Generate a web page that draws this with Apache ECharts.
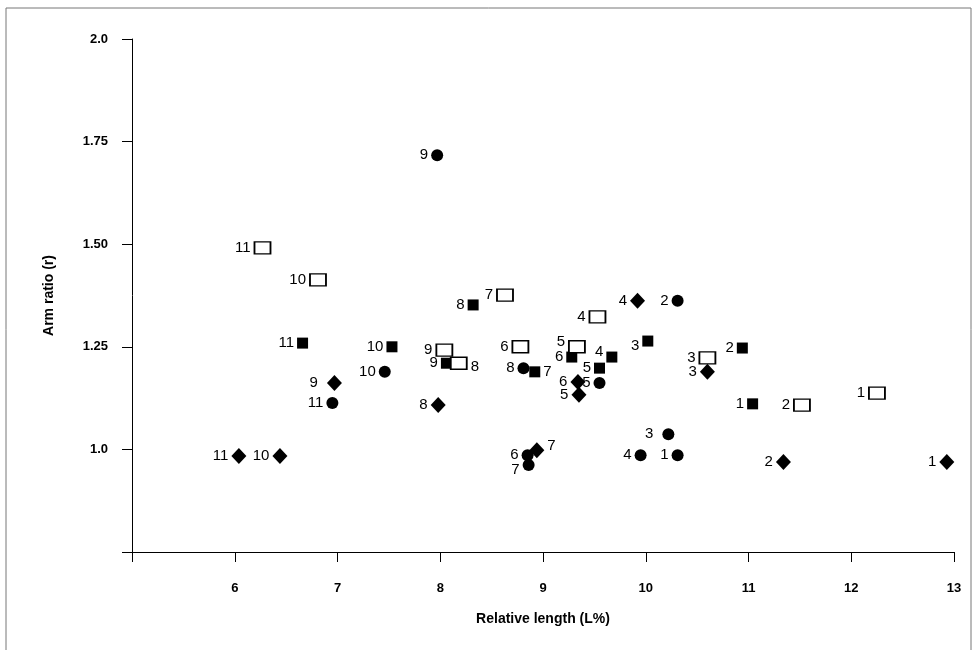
<!DOCTYPE html>
<html>
<head>
<meta charset="utf-8">
<script src="https://cdn.jsdelivr.net/npm/echarts@6/dist/echarts.min.js"></script>
<style>
  html, body { margin: 0; padding: 0; background: #ffffff; }
  #chart { width: 976px; height: 650px; }
</style>
</head>
<body>
<div id="chart"></div>
<script>
// ---- Data ----
const pointIds = ['1', '2', '3', '4', '5', '6', '7', '8', '9', '10', '11'];

const circleX  = [10.31, 10.31, 10.22, 9.95, 9.55, 8.85, 8.86, 8.81, 7.97, 7.46, 6.95];
const circleY  = [0.986, 1.362, 1.037, 0.986, 1.162, 0.986, 0.962, 1.198, 1.717, 1.189, 1.113];

const diamondX = [12.93, 11.34, 10.60, 9.92, 9.35, 9.34, 8.94, 7.98, 6.97, 6.44, 6.04];
const diamondY = [0.969, 0.969, 1.189, 1.362, 1.133, 1.164, 0.998, 1.108, 1.162, 0.984, 0.984];

const filledSqX = [11.04, 10.94, 10.02, 9.67, 9.55, 9.28, 8.92, 8.32, 8.06, 7.53, 6.66];
const filledSqY = [1.111, 1.247, 1.264, 1.225, 1.198, 1.225, 1.189, 1.352, 1.210, 1.250, 1.259];

const openSqX = [12.25, 11.52, 10.60, 9.53, 9.33, 8.78, 8.63, 8.18, 8.04, 6.81, 6.27];
const openSqY = [1.137, 1.108, 1.223, 1.323, 1.250, 1.250, 1.376, 1.210, 1.242, 1.413, 1.491];

const xTickValues = [6, 7, 8, 9, 10, 11, 12, 13];
const yTickValues = [2.0, 1.75, 1.5, 1.25, 1.0];
const yTickLabels = ['2.0', '1.75', '1.50', '1.25', '1.0'];

const xAxisTitle = 'Relative length (L%)';
const yAxisTitle = 'Arm ratio (r)';

// ---- Label placement tweaks (style only) ----
const labelTweaks = {
  circle:   { '3': { distance: 9 }, '7': { offset: [0, 5] } },
  diamond:  { '7': { position: 'right', offset: [0, -4] }, '9': { distance: 9 } },
  filledSq: { '7': { position: 'right' }, '4': { offset: [0, -5] }, '3': { offset: [0, 5] } },
  openSq:   { '8': { position: 'right', offset: [0, 4] }, '5': { offset: [0, -5] } }
};

function buildData(xs, ys, key) {
  return xs.map(function (x, i) {
    const id = pointIds[i];
    const item = { value: [x, ys[i]], name: id };
    const t = labelTweaks[key][id];
    if (t) item.label = Object.assign({}, t);
    return item;
  });
}

const labelStyle = {
  show: true,
  position: 'left',
  distance: 3,
  formatter: function (p) { return p.name; },
  color: '#000',
  fontSize: 15,
  fontFamily: 'Liberation Sans, Arial, sans-serif'
};

const chart = echarts.init(document.getElementById('chart'), null, { renderer: 'canvas' });

const axisFont = 'Liberation Sans, Arial, sans-serif';

const option = {
  backgroundColor: '#ffffff',
  animation: false,
  graphic: [{
    type: 'rect',
    shape: { x: 6, y: 8, width: 965, height: 660 },
    style: { fill: 'none', stroke: '#777', lineWidth: 1 },
    silent: true
  }],
  grid: { left: 132, right: 22, top: 39, bottom: 98, containLabel: false },
  xAxis: {
    type: 'value',
    min: 5, max: 13, interval: 1,
    name: xAxisTitle,
    nameLocation: 'middle',
    nameGap: 60,
    nameTextStyle: { color: '#000', fontSize: 14, fontWeight: 'bold', fontFamily: axisFont },
    axisLine: { show: true, onZero: false, lineStyle: { color: '#000', width: 1 } },
    axisTick: { show: true, inside: false, length: 10, lineStyle: { color: '#000' } },
    axisLabel: {
      margin: 30,
      color: '#000', fontSize: 13, fontWeight: 'bold',
      fontFamily: axisFont,
      formatter: function (v) { return xTickValues.indexOf(v) >= 0 ? String(v) : ''; }
    },
    splitLine: { show: false }
  },
  yAxis: {
    type: 'value',
    min: 0.75, max: 2.0, interval: 0.25,
    name: yAxisTitle,
    nameLocation: 'middle',
    nameGap: 76,
    nameRotate: 90,
    nameTextStyle: { color: '#000', fontSize: 14, fontWeight: 'bold', fontFamily: axisFont },
    axisLine: { show: true, onZero: false, lineStyle: { color: '#000', width: 1 } },
    axisTick: { show: true, inside: false, length: 10, lineStyle: { color: '#000' } },
    axisLabel: {
      margin: 24,
      color: '#000', fontSize: 13, fontWeight: 'bold',
      fontFamily: axisFont,
      formatter: function (v) {
        for (let i = 0; i < yTickValues.length; i++) {
          if (Math.abs(yTickValues[i] - v) < 1e-6) return yTickLabels[i];
        }
        return '';
      }
    },
    splitLine: { show: false }
  },
  series: [
    {
      name: 'circle', type: 'scatter', symbol: 'circle', symbolSize: 12,
      itemStyle: { color: '#000', opacity: 1 },
      label: labelStyle,
      data: buildData(circleX, circleY, 'circle')
    },
    {
      name: 'diamond', type: 'scatter', symbol: 'diamond', symbolSize: [15, 16],
      itemStyle: { color: '#000', opacity: 1 },
      label: labelStyle,
      data: buildData(diamondX, diamondY, 'diamond')
    },
    {
      name: 'filledSq', type: 'scatter', symbol: 'rect', symbolSize: 11,
      itemStyle: { color: '#000', opacity: 1 },
      label: labelStyle,
      data: buildData(filledSqX, filledSqY, 'filledSq')
    },
    {
      name: 'openSq', type: 'scatter', symbol: 'rect', symbolSize: [16, 12],
      itemStyle: { color: '#fff', borderColor: '#000', borderWidth: 1.6, opacity: 1 },
      label: labelStyle,
      data: buildData(openSqX, openSqY, 'openSq')
    }
  ]
};

chart.setOption(option);
</script>
</body>
</html>
